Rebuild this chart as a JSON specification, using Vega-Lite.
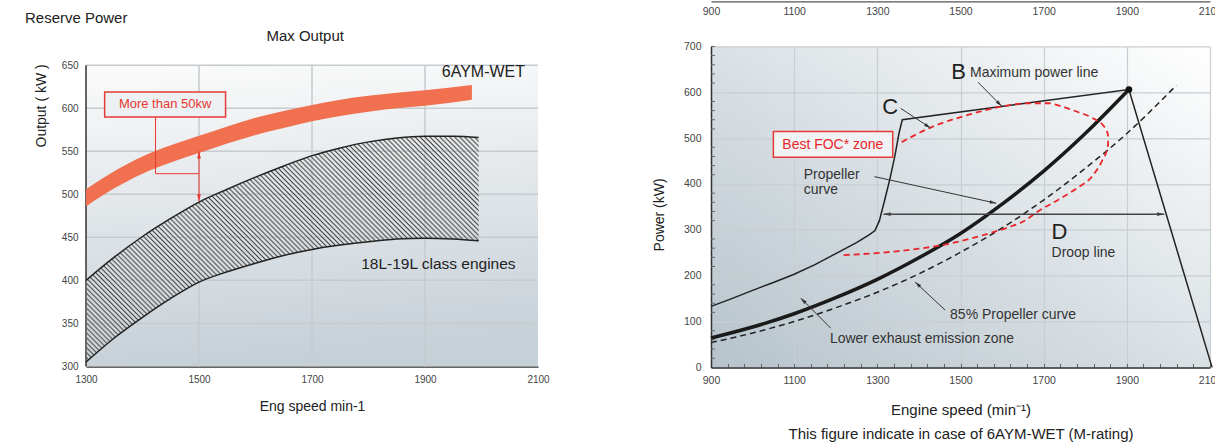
{
  "$schema": "https://vega.github.io/schema/vega-lite/v6.json",
  "padding": {"left": 25, "top": 1.4, "right": 0, "bottom": 0},
  "spacing": 102,
  "config": {
    "font": "Liberation Sans",
    "view": {"stroke": null},
    "axis": {"labelFont": "Liberation Sans", "titleFont": "Liberation Sans", "titleFontWeight": "normal", "labelColor": "#444", "titleColor": "#222", "labelFlush": false, "labelOverlap": false, "format": "d"},
    "title": {"fontWeight": "normal", "font": "Liberation Sans"}
  },
  "datasets": {
    "hatch": [
      {"x": 1300, "y": 400, "y2": 305}, {"x": 1350, "y": 427, "y2": 333}, {"x": 1400, "y": 451, "y2": 357},
      {"x": 1450, "y": 472, "y2": 379}, {"x": 1500, "y": 491, "y2": 398}, {"x": 1550, "y": 506, "y2": 410},
      {"x": 1600, "y": 520, "y2": 420}, {"x": 1650, "y": 533, "y2": 429}, {"x": 1700, "y": 545, "y2": 436},
      {"x": 1750, "y": 554, "y2": 441}, {"x": 1800, "y": 561, "y2": 445}, {"x": 1850, "y": 565.5, "y2": 448},
      {"x": 1900, "y": 567.5, "y2": 449}, {"x": 1950, "y": 567.5, "y2": 448}, {"x": 1995, "y": 566, "y2": 446}
    ],
    "band": [
      {"x": 1300, "y": 506, "y2": 486}, {"x": 1350, "y": 527, "y2": 507}, {"x": 1400, "y": 544, "y2": 524},
      {"x": 1450, "y": 557, "y2": 537}, {"x": 1500, "y": 568, "y2": 548}, {"x": 1550, "y": 579, "y2": 559},
      {"x": 1600, "y": 589, "y2": 569}, {"x": 1650, "y": 597, "y2": 577}, {"x": 1700, "y": 604, "y2": 585},
      {"x": 1750, "y": 610, "y2": 591}, {"x": 1800, "y": 614.5, "y2": 596}, {"x": 1850, "y": 618, "y2": 600},
      {"x": 1900, "y": 621, "y2": 603}, {"x": 1983, "y": 627, "y2": 610}
    ],
    "maxp": [
      {"x": 900, "y": 133}, {"x": 950, "y": 150}, {"x": 1000, "y": 168}, {"x": 1050, "y": 185},
      {"x": 1100, "y": 203}, {"x": 1150, "y": 224}, {"x": 1200, "y": 248}, {"x": 1250, "y": 272},
      {"x": 1280, "y": 289}, {"x": 1294, "y": 298}, {"x": 1305, "y": 320}, {"x": 1318, "y": 366},
      {"x": 1330, "y": 410}, {"x": 1342, "y": 460}, {"x": 1352, "y": 510}, {"x": 1360, "y": 540},
      {"x": 1905, "y": 606}, {"x": 2105, "y": 0}
    ],
    "prop": [
      {"x": 900, "y": 64}, {"x": 1000, "y": 88}, {"x": 1100, "y": 117}, {"x": 1200, "y": 152},
      {"x": 1300, "y": 192}, {"x": 1400, "y": 239}, {"x": 1500, "y": 292}, {"x": 1600, "y": 356},
      {"x": 1700, "y": 428}, {"x": 1800, "y": 510}, {"x": 1905, "y": 606}
    ],
    "p85": [
      {"x": 900, "y": 54}, {"x": 1000, "y": 75}, {"x": 1100, "y": 100}, {"x": 1200, "y": 130},
      {"x": 1300, "y": 164}, {"x": 1400, "y": 204}, {"x": 1500, "y": 251}, {"x": 1600, "y": 304},
      {"x": 1700, "y": 365}, {"x": 1800, "y": 434}, {"x": 1900, "y": 510}, {"x": 2019, "y": 615}
    ],
    "foc": [
      {"i": 0, "x": 1219, "y": 245}, {"i": 1, "x": 1280, "y": 248}, {"i": 2, "x": 1345, "y": 253},
      {"i": 3, "x": 1400, "y": 259}, {"i": 4, "x": 1459, "y": 267}, {"i": 5, "x": 1520, "y": 280},
      {"i": 6, "x": 1572, "y": 293}, {"i": 7, "x": 1620, "y": 307}, {"i": 8, "x": 1651, "y": 318},
      {"i": 9, "x": 1686, "y": 340}, {"i": 10, "x": 1740, "y": 368}, {"i": 11, "x": 1782, "y": 392},
      {"i": 12, "x": 1815, "y": 415}, {"i": 13, "x": 1840, "y": 450}, {"i": 14, "x": 1855, "y": 485},
      {"i": 15, "x": 1855, "y": 505}, {"i": 16, "x": 1848, "y": 522}, {"i": 17, "x": 1815, "y": 545},
      {"i": 18, "x": 1782, "y": 557}, {"i": 19, "x": 1740, "y": 570}, {"i": 20, "x": 1712, "y": 576},
      {"i": 21, "x": 1660, "y": 576}, {"i": 22, "x": 1599, "y": 569}, {"i": 23, "x": 1520, "y": 551},
      {"i": 24, "x": 1433, "y": 525}, {"i": 25, "x": 1354, "y": 489}
    ],
    "heads": [
      {"id": "up", "x": 1500, "y": 550}, {"id": "down", "x": 1500, "y": 492},
      {"id": "dl", "x": 1315, "y": 334}, {"id": "dr", "x": 1990, "y": 334},
      {"id": "mp", "x": 1599, "y": 569.5}, {"id": "c", "x": 1428, "y": 522},
      {"id": "pr", "x": 1586, "y": 358}, {"id": "p85", "x": 1391, "y": 186},
      {"id": "le", "x": 1116, "y": 151}
    ],
    "arrows": [
      {"x": 1542, "y": 622, "x2": 1599, "y2": 569.5}, {"x": 1356, "y": 565, "x2": 1428, "y2": 522},
      {"x": 1293, "y": 416, "x2": 1586, "y2": 358}, {"x": 1463, "y": 125, "x2": 1391, "y2": 186},
      {"x": 1188, "y": 85.5, "x2": 1116, "y2": 151}
    ],
    "yminor": [
      {"y": 20}, {"y": 40}, {"y": 60}, {"y": 80}, {"y": 120}, {"y": 140}, {"y": 160}, {"y": 180},
      {"y": 220}, {"y": 240}, {"y": 260}, {"y": 280}, {"y": 320}, {"y": 340}, {"y": 360}, {"y": 380},
      {"y": 420}, {"y": 440}, {"y": 460}, {"y": 480}, {"y": 520}, {"y": 540}, {"y": 560}, {"y": 580},
      {"y": 620}, {"y": 640}, {"y": 660}, {"y": 680}, {"y": 700}
    ],
    "rtext": [
      {"x": 1523, "y": 642, "t": "Maximum power line"}, {"x": 1123, "y": 420, "t": "Propeller"},
      {"x": 1123, "y": 386, "t": "curve"}, {"x": 1719, "y": 250, "t": "Droop line"},
      {"x": 1475, "y": 114, "t": "85% Propeller curve"}, {"x": 1186, "y": 62, "t": "Lower exhaust emission zone"}
    ],
    "letters": [
      {"x": 1478, "y": 645, "t": "B"}, {"x": 1312, "y": 568, "t": "C"}, {"x": 1719, "y": 296, "t": "D"}
    ]
  },
  "hconcat": [
    {
      "width": 452,
      "height": 320,
      "title": {"text": "Reserve Power", "anchor": "start", "frame": "group", "dx": -61, "fontSize": 15, "color": "#222", "offset": 3},
      "view": {"stroke": null, "fill": null},
      "layer": [
        {
          "data": {"values": [{"x": 1300, "x2": 2100, "y": 300, "y2": 650}]},
          "mark": {"type": "rect", "fill": {"gradient": "linear", "x1": 0, "y1": 0, "x2": 0.1, "y2": 1, "stops": [{"offset": 0, "color": "#fbfbfb"}, {"offset": 1, "color": "#c6d0d7"}]}},
          "encoding": {
            "x": {"field": "x", "type": "quantitative", "scale": {"domain": [1300, 2100], "nice": false, "zero": false},
              "axis": {"values": [1300, 1500, 1700, 1900, 2100], "title": "Eng speed min-1", "titleFontSize": 14, "titlePadding": 15, "labelFontSize": 10, "labelPadding": 8, "ticks": false, "grid": false, "domainColor": "#333", "domainWidth": 1.5}},
            "x2": {"field": "x2"},
            "y": {"field": "y", "type": "quantitative", "scale": {"domain": [300, 672], "nice": false, "zero": false},
              "axis": {"values": [300, 350, 400, 450, 500, 550, 600, 650], "title": "Output ( kW )", "titleAnchor": "middle", "titleY": 59, "titleFontSize": 14, "titlePadding": 13, "labelFontSize": 10, "labelPadding": 8, "ticks": false, "grid": false, "domain": false}},
            "y2": {"field": "y2"}
          }
        },
        {
          "data": {"values": [{"y": 350}, {"y": 400}, {"y": 450}, {"y": 500}, {"y": 550}, {"y": 600}, {"y": 650}]},
          "mark": {"type": "rule", "color": "#c6cbcf", "strokeWidth": 1.5},
          "encoding": {"y": {"field": "y", "type": "quantitative"}}
        },
        {
          "data": {"values": [{"x": 1500}, {"x": 1700}, {"x": 1900}]},
          "mark": {"type": "rule", "color": "#c6cbcf", "strokeWidth": 1.5},
          "encoding": {"x": {"field": "x", "type": "quantitative"}, "y": {"datum": 300, "type": "quantitative"}, "y2": {"datum": 650}}
        },
        {
          "data": {"values": [{"x": 1300}]},
          "mark": {"type": "rule", "color": "#333", "strokeWidth": 1.5},
          "encoding": {"x": {"field": "x", "type": "quantitative"}, "y": {"datum": 300, "type": "quantitative"}, "y2": {"datum": 650}}
        },
        {
          "data": {"name": "hatch"},
          "mark": {"type": "area", "interpolate": "monotone", "fill": {"gradient": "linear", "x1": 0, "y1": 1, "x2": 1.184, "y2": 0.321, "stops": [
            {"offset": 0, "color": "#444"}, {"offset": 0.004, "color": "#fff0"}, {"offset": 0.008, "color": "#444"}, {"offset": 0.012, "color": "#fff0"}, {"offset": 0.016, "color": "#444"}, {"offset": 0.02, "color": "#fff0"}, {"offset": 0.024, "color": "#444"}, {"offset": 0.028, "color": "#fff0"}, {"offset": 0.032, "color": "#444"}, {"offset": 0.036, "color": "#fff0"},
            {"offset": 0.04, "color": "#444"}, {"offset": 0.044, "color": "#fff0"}, {"offset": 0.048, "color": "#444"}, {"offset": 0.052, "color": "#fff0"}, {"offset": 0.056, "color": "#444"}, {"offset": 0.06, "color": "#fff0"}, {"offset": 0.064, "color": "#444"}, {"offset": 0.068, "color": "#fff0"}, {"offset": 0.072, "color": "#444"}, {"offset": 0.076, "color": "#fff0"},
            {"offset": 0.08, "color": "#444"}, {"offset": 0.084, "color": "#fff0"}, {"offset": 0.088, "color": "#444"}, {"offset": 0.092, "color": "#fff0"}, {"offset": 0.096, "color": "#444"}, {"offset": 0.1, "color": "#fff0"}, {"offset": 0.104, "color": "#444"}, {"offset": 0.108, "color": "#fff0"}, {"offset": 0.112, "color": "#444"}, {"offset": 0.116, "color": "#fff0"},
            {"offset": 0.12, "color": "#444"}, {"offset": 0.124, "color": "#fff0"}, {"offset": 0.128, "color": "#444"}, {"offset": 0.132, "color": "#fff0"}, {"offset": 0.136, "color": "#444"}, {"offset": 0.14, "color": "#fff0"}, {"offset": 0.144, "color": "#444"}, {"offset": 0.148, "color": "#fff0"}, {"offset": 0.152, "color": "#444"}, {"offset": 0.156, "color": "#fff0"},
            {"offset": 0.16, "color": "#444"}, {"offset": 0.164, "color": "#fff0"}, {"offset": 0.168, "color": "#444"}, {"offset": 0.172, "color": "#fff0"}, {"offset": 0.176, "color": "#444"}, {"offset": 0.18, "color": "#fff0"}, {"offset": 0.184, "color": "#444"}, {"offset": 0.188, "color": "#fff0"}, {"offset": 0.192, "color": "#444"}, {"offset": 0.196, "color": "#fff0"},
            {"offset": 0.2, "color": "#444"}, {"offset": 0.204, "color": "#fff0"}, {"offset": 0.208, "color": "#444"}, {"offset": 0.212, "color": "#fff0"}, {"offset": 0.216, "color": "#444"}, {"offset": 0.22, "color": "#fff0"}, {"offset": 0.224, "color": "#444"}, {"offset": 0.228, "color": "#fff0"}, {"offset": 0.232, "color": "#444"}, {"offset": 0.236, "color": "#fff0"},
            {"offset": 0.24, "color": "#444"}, {"offset": 0.244, "color": "#fff0"}, {"offset": 0.248, "color": "#444"}, {"offset": 0.252, "color": "#fff0"}, {"offset": 0.256, "color": "#444"}, {"offset": 0.26, "color": "#fff0"}, {"offset": 0.264, "color": "#444"}, {"offset": 0.268, "color": "#fff0"}, {"offset": 0.272, "color": "#444"}, {"offset": 0.276, "color": "#fff0"},
            {"offset": 0.28, "color": "#444"}, {"offset": 0.284, "color": "#fff0"}, {"offset": 0.288, "color": "#444"}, {"offset": 0.292, "color": "#fff0"}, {"offset": 0.296, "color": "#444"}, {"offset": 0.3, "color": "#fff0"}, {"offset": 0.304, "color": "#444"}, {"offset": 0.308, "color": "#fff0"}, {"offset": 0.312, "color": "#444"}, {"offset": 0.316, "color": "#fff0"},
            {"offset": 0.32, "color": "#444"}, {"offset": 0.324, "color": "#fff0"}, {"offset": 0.328, "color": "#444"}, {"offset": 0.332, "color": "#fff0"}, {"offset": 0.336, "color": "#444"}, {"offset": 0.34, "color": "#fff0"}, {"offset": 0.344, "color": "#444"}, {"offset": 0.348, "color": "#fff0"}, {"offset": 0.352, "color": "#444"}, {"offset": 0.356, "color": "#fff0"},
            {"offset": 0.36, "color": "#444"}, {"offset": 0.364, "color": "#fff0"}, {"offset": 0.368, "color": "#444"}, {"offset": 0.372, "color": "#fff0"}, {"offset": 0.376, "color": "#444"}, {"offset": 0.38, "color": "#fff0"}, {"offset": 0.384, "color": "#444"}, {"offset": 0.388, "color": "#fff0"}, {"offset": 0.392, "color": "#444"}, {"offset": 0.396, "color": "#fff0"},
            {"offset": 0.4, "color": "#444"}, {"offset": 0.404, "color": "#fff0"}, {"offset": 0.408, "color": "#444"}, {"offset": 0.412, "color": "#fff0"}, {"offset": 0.416, "color": "#444"}, {"offset": 0.42, "color": "#fff0"}, {"offset": 0.424, "color": "#444"}, {"offset": 0.428, "color": "#fff0"}, {"offset": 0.432, "color": "#444"}, {"offset": 0.436, "color": "#fff0"},
            {"offset": 0.44, "color": "#444"}, {"offset": 0.444, "color": "#fff0"}, {"offset": 0.448, "color": "#444"}, {"offset": 0.452, "color": "#fff0"}, {"offset": 0.456, "color": "#444"}, {"offset": 0.46, "color": "#fff0"}, {"offset": 0.464, "color": "#444"}, {"offset": 0.468, "color": "#fff0"}, {"offset": 0.472, "color": "#444"}, {"offset": 0.476, "color": "#fff0"},
            {"offset": 0.48, "color": "#444"}, {"offset": 0.484, "color": "#fff0"}, {"offset": 0.488, "color": "#444"}, {"offset": 0.492, "color": "#fff0"}, {"offset": 0.496, "color": "#444"}, {"offset": 0.5, "color": "#fff0"}, {"offset": 0.504, "color": "#444"}, {"offset": 0.508, "color": "#fff0"}, {"offset": 0.512, "color": "#444"}, {"offset": 0.516, "color": "#fff0"},
            {"offset": 0.52, "color": "#444"}, {"offset": 0.524, "color": "#fff0"}, {"offset": 0.528, "color": "#444"}, {"offset": 0.532, "color": "#fff0"}, {"offset": 0.536, "color": "#444"}, {"offset": 0.54, "color": "#fff0"}, {"offset": 0.544, "color": "#444"}, {"offset": 0.548, "color": "#fff0"}, {"offset": 0.552, "color": "#444"}, {"offset": 0.556, "color": "#fff0"},
            {"offset": 0.56, "color": "#444"}, {"offset": 0.564, "color": "#fff0"}, {"offset": 0.568, "color": "#444"}, {"offset": 0.572, "color": "#fff0"}, {"offset": 0.576, "color": "#444"}, {"offset": 0.58, "color": "#fff0"}, {"offset": 0.584, "color": "#444"}, {"offset": 0.588, "color": "#fff0"}, {"offset": 0.592, "color": "#444"}, {"offset": 0.596, "color": "#fff0"},
            {"offset": 0.6, "color": "#444"}, {"offset": 0.604, "color": "#fff0"}, {"offset": 0.608, "color": "#444"}, {"offset": 0.612, "color": "#fff0"}, {"offset": 0.616, "color": "#444"}, {"offset": 0.62, "color": "#fff0"}, {"offset": 0.624, "color": "#444"}, {"offset": 0.628, "color": "#fff0"}, {"offset": 0.632, "color": "#444"}, {"offset": 0.636, "color": "#fff0"},
            {"offset": 0.64, "color": "#444"}, {"offset": 0.644, "color": "#fff0"}, {"offset": 0.648, "color": "#444"}, {"offset": 0.652, "color": "#fff0"}, {"offset": 0.656, "color": "#444"}, {"offset": 0.66, "color": "#fff0"}, {"offset": 0.664, "color": "#444"}, {"offset": 0.668, "color": "#fff0"}, {"offset": 0.672, "color": "#444"}, {"offset": 0.676, "color": "#fff0"},
            {"offset": 0.68, "color": "#444"}, {"offset": 0.684, "color": "#fff0"}, {"offset": 0.688, "color": "#444"}, {"offset": 0.692, "color": "#fff0"}, {"offset": 0.696, "color": "#444"}, {"offset": 0.7, "color": "#fff0"}, {"offset": 0.704, "color": "#444"}, {"offset": 0.708, "color": "#fff0"}, {"offset": 0.712, "color": "#444"}, {"offset": 0.716, "color": "#fff0"},
            {"offset": 0.72, "color": "#444"}, {"offset": 0.724, "color": "#fff0"}, {"offset": 0.728, "color": "#444"}, {"offset": 0.732, "color": "#fff0"}, {"offset": 0.736, "color": "#444"}, {"offset": 0.74, "color": "#fff0"}, {"offset": 0.744, "color": "#444"}, {"offset": 0.748, "color": "#fff0"}, {"offset": 0.752, "color": "#444"}, {"offset": 0.756, "color": "#fff0"},
            {"offset": 0.76, "color": "#444"}, {"offset": 0.764, "color": "#fff0"}, {"offset": 0.768, "color": "#444"}, {"offset": 0.772, "color": "#fff0"}, {"offset": 0.776, "color": "#444"}, {"offset": 0.78, "color": "#fff0"}, {"offset": 0.784, "color": "#444"}, {"offset": 0.788, "color": "#fff0"}, {"offset": 0.792, "color": "#444"}, {"offset": 0.796, "color": "#fff0"},
            {"offset": 0.8, "color": "#444"}, {"offset": 0.804, "color": "#fff0"}, {"offset": 0.808, "color": "#444"}, {"offset": 0.812, "color": "#fff0"}, {"offset": 0.816, "color": "#444"}, {"offset": 0.82, "color": "#fff0"}, {"offset": 0.824, "color": "#444"}, {"offset": 0.828, "color": "#fff0"}, {"offset": 0.832, "color": "#444"}, {"offset": 0.836, "color": "#fff0"},
            {"offset": 0.84, "color": "#444"}, {"offset": 0.844, "color": "#fff0"}, {"offset": 0.848, "color": "#444"}, {"offset": 0.852, "color": "#fff0"}, {"offset": 0.856, "color": "#444"}, {"offset": 0.86, "color": "#fff0"}, {"offset": 0.864, "color": "#444"}, {"offset": 0.868, "color": "#fff0"}, {"offset": 0.872, "color": "#444"}, {"offset": 0.876, "color": "#fff0"},
            {"offset": 0.88, "color": "#444"}, {"offset": 0.884, "color": "#fff0"}, {"offset": 0.888, "color": "#444"}, {"offset": 0.892, "color": "#fff0"}, {"offset": 0.896, "color": "#444"}, {"offset": 0.9, "color": "#fff0"}, {"offset": 0.904, "color": "#444"}, {"offset": 0.908, "color": "#fff0"}, {"offset": 0.912, "color": "#444"}, {"offset": 0.916, "color": "#fff0"},
            {"offset": 0.92, "color": "#444"}, {"offset": 0.924, "color": "#fff0"}, {"offset": 0.928, "color": "#444"}, {"offset": 0.932, "color": "#fff0"}, {"offset": 0.936, "color": "#444"}, {"offset": 0.94, "color": "#fff0"}, {"offset": 0.944, "color": "#444"}, {"offset": 0.948, "color": "#fff0"}, {"offset": 0.952, "color": "#444"}, {"offset": 0.956, "color": "#fff0"},
            {"offset": 0.96, "color": "#444"}, {"offset": 0.964, "color": "#fff0"}, {"offset": 0.968, "color": "#444"}, {"offset": 0.972, "color": "#fff0"}, {"offset": 0.976, "color": "#444"}, {"offset": 0.98, "color": "#fff0"}, {"offset": 0.984, "color": "#444"}, {"offset": 0.988, "color": "#fff0"}, {"offset": 0.992, "color": "#444"}, {"offset": 0.996, "color": "#fff0"},
            {"offset": 1, "color": "#444"}
          ]}},
          "encoding": {"x": {"field": "x", "type": "quantitative"}, "y": {"field": "y", "type": "quantitative"}, "y2": {"field": "y2"}}
        },
        {
          "data": {"name": "hatch"},
          "mark": {"type": "line", "interpolate": "monotone", "color": "#222", "strokeWidth": 1.5},
          "encoding": {"x": {"field": "x", "type": "quantitative"}, "y": {"field": "y", "type": "quantitative"}}
        },
        {
          "data": {"name": "hatch"},
          "mark": {"type": "line", "interpolate": "monotone", "color": "#222", "strokeWidth": 1.5},
          "encoding": {"x": {"field": "x", "type": "quantitative"}, "y": {"field": "y2", "type": "quantitative"}}
        },
        {
          "data": {"name": "band"},
          "mark": {"type": "area", "interpolate": "monotone", "color": "#f0704f", "opacity": 1},
          "encoding": {"x": {"field": "x", "type": "quantitative"}, "y": {"field": "y", "type": "quantitative"}, "y2": {"field": "y2"}}
        },
        {
          "data": {"values": [{"x": 1333, "x2": 1547, "y": 590, "y2": 619}]},
          "mark": {"type": "rect", "fill": "#eef1f3", "stroke": "#e53a35", "strokeWidth": 1.5},
          "encoding": {"x": {"field": "x", "type": "quantitative"}, "x2": {"field": "x2"}, "y": {"field": "y", "type": "quantitative"}, "y2": {"field": "y2"}}
        },
        {
          "data": {"values": [{"x": 1423, "y": 590, "x2": 1423, "y2": 524}, {"x": 1423, "y": 524, "x2": 1500, "y2": 524}, {"x": 1500, "y": 492, "x2": 1500, "y2": 550}]},
          "mark": {"type": "rule", "color": "#e8382f", "strokeWidth": 1},
          "encoding": {"x": {"field": "x", "type": "quantitative"}, "x2": {"field": "x2"}, "y": {"field": "y", "type": "quantitative"}, "y2": {"field": "y2"}}
        },
        {
          "data": {"name": "heads"},
          "transform": [{"filter": "datum.id == 'up'"}],
          "mark": {"type": "point", "shape": "M0,0L0.45,1.7L-0.45,1.7Z", "filled": true, "color": "#e8382f", "opacity": 1, "size": 70, "angle": 0},
          "encoding": {"x": {"field": "x", "type": "quantitative"}, "y": {"field": "y", "type": "quantitative"}}
        },
        {
          "data": {"name": "heads"},
          "transform": [{"filter": "datum.id == 'down'"}],
          "mark": {"type": "point", "shape": "M0,0L0.45,1.7L-0.45,1.7Z", "filled": true, "color": "#e8382f", "opacity": 1, "size": 70, "angle": 180},
          "encoding": {"x": {"field": "x", "type": "quantitative"}, "y": {"field": "y", "type": "quantitative"}}
        },
        {
          "data": {"values": [{"x": 2077, "y": 642, "t": "6AYM-WET"}]},
          "mark": {"type": "text", "align": "right", "baseline": "middle", "fontSize": 16, "color": "#222"},
          "encoding": {"x": {"field": "x", "type": "quantitative"}, "y": {"field": "y", "type": "quantitative"}, "text": {"field": "t"}}
        },
        {
          "data": {"values": [{"x": 1787, "y": 419, "t": "18L-19L class engines"}]},
          "mark": {"type": "text", "align": "left", "baseline": "middle", "fontSize": 15.5, "color": "#222"},
          "encoding": {"x": {"field": "x", "type": "quantitative"}, "y": {"field": "y", "type": "quantitative"}, "text": {"field": "t"}}
        },
        {
          "data": {"values": [{"x": 1688, "y": 684, "t": "Max Output"}]},
          "mark": {"type": "text", "align": "center", "baseline": "middle", "fontSize": 15, "color": "#222"},
          "encoding": {"x": {"field": "x", "type": "quantitative"}, "y": {"field": "y", "type": "quantitative"}, "text": {"field": "t"}}
        },
        {
          "data": {"values": [{"x": 1440, "y": 604.5, "t": "More than 50kw"}]},
          "mark": {"type": "text", "align": "center", "baseline": "middle", "fontSize": 13, "color": "#e8382f"},
          "encoding": {"x": {"field": "x", "type": "quantitative"}, "y": {"field": "y", "type": "quantitative"}, "text": {"field": "t"}}
        }
      ]
    },
    {
      "width": 499,
      "height": 321,
      "view": {"stroke": null, "fill": {"gradient": "linear", "x1": 0, "y1": 1, "x2": 1, "y2": 0, "stops": [{"offset": 0, "color": "#b6c3cb"}, {"offset": 1, "color": "#ffffff"}]}},
      "resolve": {"axis": {"x": "independent"}},
      "layer": [
        {
          "data": {"name": "maxp"},
          "mark": {"type": "line", "color": "#222", "strokeWidth": 1.5},
          "encoding": {
            "x": {"field": "x", "type": "quantitative", "scale": {"domain": [900, 2100], "nice": false, "zero": false},
              "axis": {"values": [900, 940, 980, 1020, 1060, 1100, 1140, 1180, 1220, 1260, 1300, 1340, 1380, 1420, 1460, 1500, 1540, 1580, 1620, 1660, 1700, 1740, 1780, 1820, 1860, 1900, 1940, 1980, 2020, 2060, 2100],
                "labelExpr": "datum.value % 200 == 100 ? datum.label : ''", "labelOverlap": false, "format": "d",
                "title": ["Engine speed (min⁻¹)", "This figure indicate in case of 6AYM-WET (M-rating)"],
                "titleFontSize": 15, "titleLineHeight": 24, "titlePadding": 17, "labelFontSize": 10.5, "labelPadding": 12,
                "tickSize": -4, "tickColor": "#666", "domainColor": "#333", "domainWidth": 1.5,
                "gridColor": "#c9ced2", "gridWidth": 1.2, "gridOpacity": {"condition": {"test": "datum.value % 200 == 100", "value": 1}, "value": 0}}},
            "y": {"field": "y", "type": "quantitative", "scale": {"domain": [0, 700], "nice": false, "zero": false},
              "axis": {"values": [0, 100, 200, 300, 400, 500, 600, 700], "format": "d",
                "title": "Power (kW)", "titleFontSize": 14, "titlePadding": 17, "titleY": 168, "labelFontSize": 10.5, "labelPadding": 10,
                "ticks": false, "domainColor": "#333", "domainWidth": 1.5,
                "gridColor": "#c9ced2", "gridWidth": 1.2}}
          }
        },
        {
          "data": {"values": [{"x": 900}]},
          "mark": {"type": "point", "opacity": 0},
          "encoding": {
            "x": {"field": "x", "type": "quantitative",
              "axis": {"orient": "top", "offset": 45, "values": [900, 1100, 1300, 1500, 1700, 1900, 2100], "format": "d", "title": null, "grid": false, "ticks": false, "tickSize": 0,
                "domainColor": "#555", "domainWidth": 1.2, "labelFontSize": 10.5, "labelPadding": -5, "labelBaseline": "top"}}
          }
        },
        {
          "data": {"name": "yminor"},
          "mark": {"type": "rule", "color": "#666", "strokeWidth": 1},
          "encoding": {"x": {"datum": 900, "type": "quantitative", "axis": null}, "x2": {"datum": 909.6}, "y": {"field": "y", "type": "quantitative"}}
        },
        {
          "data": {"name": "prop"},
          "mark": {"type": "line", "interpolate": "monotone", "color": "#1a1a1a", "strokeWidth": 3.5},
          "encoding": {"x": {"field": "x", "type": "quantitative", "axis": null}, "y": {"field": "y", "type": "quantitative"}}
        },
        {
          "data": {"name": "p85"},
          "mark": {"type": "line", "interpolate": "monotone", "color": "#222", "strokeWidth": 1.5, "strokeDash": [6, 4]},
          "encoding": {"x": {"field": "x", "type": "quantitative", "axis": null}, "y": {"field": "y", "type": "quantitative"}}
        },
        {
          "data": {"name": "foc"},
          "mark": {"type": "line", "interpolate": "monotone", "color": "#e8262b", "strokeWidth": 1.8, "strokeDash": [6, 4]},
          "encoding": {"x": {"field": "x", "type": "quantitative", "axis": null}, "y": {"field": "y", "type": "quantitative"}, "order": {"field": "i", "type": "quantitative"}}
        },
        {
          "data": {"values": [{"x": 1315, "y": 334, "x2": 1990, "y2": 334}]},
          "mark": {"type": "rule", "color": "#444", "strokeWidth": 1.5},
          "encoding": {"x": {"field": "x", "type": "quantitative", "axis": null}, "x2": {"field": "x2"}, "y": {"field": "y", "type": "quantitative"}, "y2": {"field": "y2"}}
        },
        {
          "data": {"name": "arrows"},
          "mark": {"type": "rule", "color": "#333", "strokeWidth": 1},
          "encoding": {"x": {"field": "x", "type": "quantitative", "axis": null}, "x2": {"field": "x2"}, "y": {"field": "y", "type": "quantitative"}, "y2": {"field": "y2"}}
        },
        {
          "data": {"name": "heads"},
          "transform": [{"filter": "datum.id == 'dl'"}],
          "mark": {"type": "point", "shape": "M0,0L0.45,1.7L-0.45,1.7Z", "filled": true, "color": "#444", "opacity": 1, "size": 70, "angle": 270},
          "encoding": {"x": {"field": "x", "type": "quantitative", "axis": null}, "y": {"field": "y", "type": "quantitative"}}
        },
        {
          "data": {"name": "heads"},
          "transform": [{"filter": "datum.id == 'dr'"}],
          "mark": {"type": "point", "shape": "M0,0L0.45,1.7L-0.45,1.7Z", "filled": true, "color": "#444", "opacity": 1, "size": 70, "angle": 90},
          "encoding": {"x": {"field": "x", "type": "quantitative", "axis": null}, "y": {"field": "y", "type": "quantitative"}}
        },
        {
          "data": {"name": "heads"},
          "transform": [{"filter": "datum.id == 'mp'"}],
          "mark": {"type": "point", "shape": "M0,0L0.45,1.7L-0.45,1.7Z", "filled": true, "color": "#333", "opacity": 1, "size": 60, "angle": 135},
          "encoding": {"x": {"field": "x", "type": "quantitative", "axis": null}, "y": {"field": "y", "type": "quantitative"}}
        },
        {
          "data": {"name": "heads"},
          "transform": [{"filter": "datum.id == 'c'"}],
          "mark": {"type": "point", "shape": "M0,0L0.45,1.7L-0.45,1.7Z", "filled": true, "color": "#333", "opacity": 1, "size": 60, "angle": 123},
          "encoding": {"x": {"field": "x", "type": "quantitative", "axis": null}, "y": {"field": "y", "type": "quantitative"}}
        },
        {
          "data": {"name": "heads"},
          "transform": [{"filter": "datum.id == 'pr'"}],
          "mark": {"type": "point", "shape": "M0,0L0.45,1.7L-0.45,1.7Z", "filled": true, "color": "#333", "opacity": 1, "size": 60, "angle": 102},
          "encoding": {"x": {"field": "x", "type": "quantitative", "axis": null}, "y": {"field": "y", "type": "quantitative"}}
        },
        {
          "data": {"name": "heads"},
          "transform": [{"filter": "datum.id == 'p85'"}],
          "mark": {"type": "point", "shape": "M0,0L0.45,1.7L-0.45,1.7Z", "filled": true, "color": "#333", "opacity": 1, "size": 60, "angle": 313},
          "encoding": {"x": {"field": "x", "type": "quantitative", "axis": null}, "y": {"field": "y", "type": "quantitative"}}
        },
        {
          "data": {"name": "heads"},
          "transform": [{"filter": "datum.id == 'le'"}],
          "mark": {"type": "point", "shape": "M0,0L0.45,1.7L-0.45,1.7Z", "filled": true, "color": "#333", "opacity": 1, "size": 60, "angle": 315},
          "encoding": {"x": {"field": "x", "type": "quantitative", "axis": null}, "y": {"field": "y", "type": "quantitative"}}
        },
        {
          "data": {"values": [{"x": 1905, "y": 606}]},
          "mark": {"type": "point", "filled": true, "color": "#111", "opacity": 1, "size": 45},
          "encoding": {"x": {"field": "x", "type": "quantitative", "axis": null}, "y": {"field": "y", "type": "quantitative"}}
        },
        {
          "data": {"values": [{"x": 1050, "x2": 1337, "y": 458.5, "y2": 514.5}]},
          "mark": {"type": "rect", "fill": "#f0f2f3", "stroke": "#e53a35", "strokeWidth": 1.5},
          "encoding": {"x": {"field": "x", "type": "quantitative", "axis": null}, "x2": {"field": "x2"}, "y": {"field": "y", "type": "quantitative"}, "y2": {"field": "y2"}}
        },
        {
          "data": {"values": [{"x": 1193, "y": 486, "t": "Best FOC* zone"}]},
          "mark": {"type": "text", "align": "center", "baseline": "middle", "fontSize": 14, "color": "#e8262b"},
          "encoding": {"x": {"field": "x", "type": "quantitative", "axis": null}, "y": {"field": "y", "type": "quantitative"}, "text": {"field": "t"}}
        },
        {
          "data": {"name": "letters"},
          "mark": {"type": "text", "align": "left", "baseline": "middle", "fontSize": 22, "color": "#222"},
          "encoding": {"x": {"field": "x", "type": "quantitative", "axis": null}, "y": {"field": "y", "type": "quantitative"}, "text": {"field": "t"}}
        },
        {
          "data": {"name": "rtext"},
          "mark": {"type": "text", "align": "left", "baseline": "middle", "fontSize": 14, "color": "#333"},
          "encoding": {"x": {"field": "x", "type": "quantitative", "axis": null}, "y": {"field": "y", "type": "quantitative"}, "text": {"field": "t"}}
        }
      ]
    }
  ]
}
